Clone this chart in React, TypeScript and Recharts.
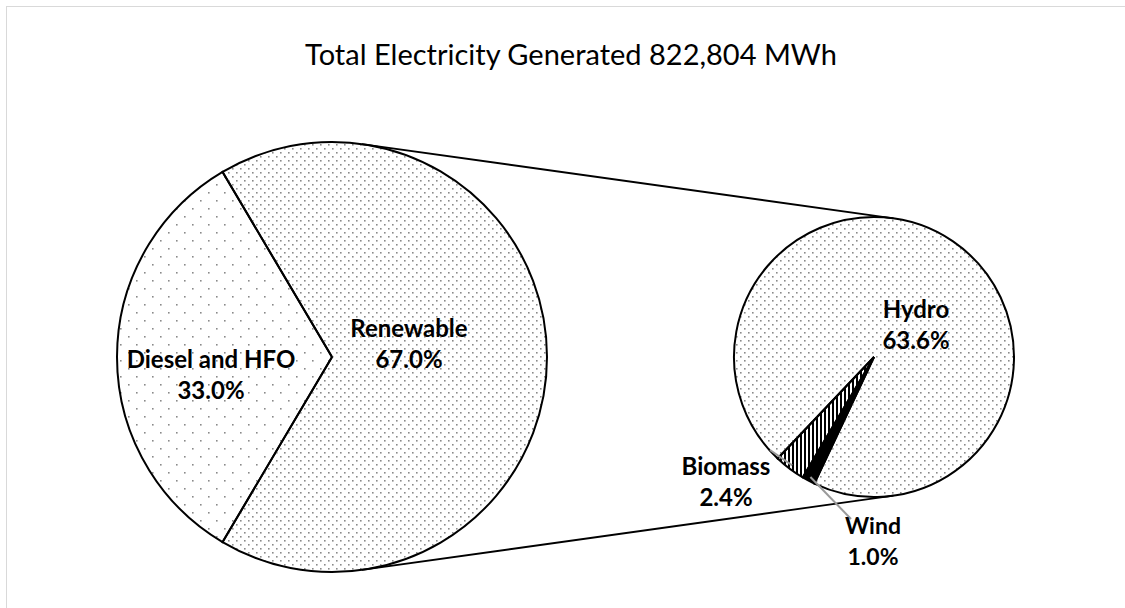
import { PieChart, Pie, Cell, Customized } from 'recharts';

// shares of total generation (%)
const mainNames = ['Diesel and HFO', 'Renewable'];
const mainShares = [33.0, 67.0];
const renewNames = ['Biomass', 'Wind', 'Hydro'];
const renewShares = [2.4, 1.0, 63.6];
const titleText = 'Total Electricity Generated 822,804 MWh';

const mainData = mainNames.map((name, i) => ({ name, value: mainShares[i] }));
const renewData = renewNames.map((name, i) => ({ name, value: renewShares[i] }));

const W = 1125;
const H = 608;
const FONT = 'Lato, "Open Sans", sans-serif';

// pie geometry
const BIG = { cx: 332, cy: 357, r: 215, start: 120.6 };
const SMALL = { cx: 874, cy: 357, r: 140, start: 226.5 };

const fills: Record<string, string> = {
  'Diesel and HFO': 'url(#dotSparse)',
  Renewable: 'url(#dotDense)',
  Hydro: 'url(#dotDense)',
  Biomass: 'url(#vStripes)',
  Wind: '#000',
};

// label placement relative to the pie centre
const labelPos: Record<string, { dx: number; dy: number }> = {
  'Diesel and HFO': { dx: -121, dy: 11 },
  Renewable: { dx: 77, dy: -20 },
  Hydro: { dx: 42, dy: -39 },
  Biomass: { dx: -148, dy: 118 },
  Wind: { dx: -1, dy: 177 },
};

// leader line start, relative to the small pie centre
const leaderStart: Record<string, { dx: number; dy: number }> = {
  Biomass: { dx: -104, dy: 93 },
  Wind: { dx: -23, dy: 162 },
};

const RAD = Math.PI / 180;

function midAngleOf(name: string) {
  const total = renewShares.reduce((a, b) => a + b, 0);
  let cum = 0;
  for (let i = 0; i < renewNames.length; i++) {
    if (renewNames[i] === name) return SMALL.start + ((cum + renewShares[i] / 2) / total) * 360;
    cum += renewShares[i];
  }
  return 0;
}

function renderLabel(center: { cx: number; cy: number; r: number }) {
  return (props: any) => {
    const name = props.payload?.name ?? props.name;
    const value = props.payload?.value ?? props.value;
    const pos = labelPos[name];
    if (!pos) return null;
    const x = center.cx + pos.dx;
    const y = center.cy + pos.dy;
    const size = name === 'Wind' ? 23 : 24;
    const ls = leaderStart[name];
    let leader = null;
    if (ls) {
      const mid = typeof props.midAngle === 'number' ? props.midAngle : midAngleOf(name);
      const ex = center.cx + center.r * 0.97 * Math.cos(-mid * RAD);
      const ey = center.cy + center.r * 0.97 * Math.sin(-mid * RAD);
      leader = (
        <line
          x1={center.cx + ls.dx}
          y1={center.cy + ls.dy}
          x2={ex}
          y2={ey}
          stroke="#9a9a9a"
          strokeWidth={2}
        />
      );
    }
    return (
      <g key={`lbl-${name}`}>
        {leader}
        <text x={x} y={y} textAnchor="middle" fontFamily={FONT} fontWeight={700} fontSize={size} fill="#000">
          {name}
        </text>
        <text x={x} y={y + 31} textAnchor="middle" fontFamily={FONT} fontWeight={700} fontSize={size} fill="#000">
          {`${Number(value).toFixed(1)}%`}
        </text>
      </g>
    );
  };
}

// outer tangent lines joining the two pies, plus the title
function Connectors() {
  const d = SMALL.cx - BIG.cx;
  const theta = Math.acos((BIG.r - SMALL.r) / d);
  const lines = [1, -1].map((s) => ({
    x1: BIG.cx + BIG.r * Math.cos(theta),
    y1: BIG.cy - s * BIG.r * Math.sin(theta),
    x2: SMALL.cx + SMALL.r * Math.cos(theta),
    y2: SMALL.cy - s * SMALL.r * Math.sin(theta),
  }));
  return (
    <g>
      {lines.map((l, i) => (
        <line key={i} {...l} stroke="#000" strokeWidth={1.8} />
      ))}
      <text x={571} y={65} textAnchor="middle" fontFamily={FONT} fontSize={29} fill="#000">
        {titleText}
      </text>
    </g>
  );
}

export default function App() {
  return (
    <div
      style={{
        position: 'absolute',
        left: 0,
        top: 0,
        width: W,
        height: H,
        overflow: 'hidden',
        background: '#fff',
      }}
    >
      <div
        style={{
          position: 'absolute',
          left: 6,
          top: 6,
          width: W + 20,
          height: H + 20,
          borderLeft: '1.5px solid #d9d9d9',
          borderTop: '1.5px solid #d9d9d9',
        }}
      />
      <div style={{ position: 'absolute', left: 0, top: 0 }}>
        <PieChart width={W} height={H} margin={{ top: 0, right: 0, bottom: 0, left: 0 }}>
          {/* patterns leave the background transparent so leader lines show through */}
          <defs>
            <pattern id="dotSparse" width={16} height={16} patternUnits="userSpaceOnUse">
              <rect x={0} y={0} width={1.6} height={1.6} fill="#8a8a8a" />
              <rect x={8} y={8} width={1.6} height={1.6} fill="#8a8a8a" />
            </pattern>
            <pattern id="dotDense" width={8} height={8} patternUnits="userSpaceOnUse">
              <rect x={0} y={0} width={1.6} height={1.6} fill="#8a8a8a" />
              <rect x={4} y={4} width={1.6} height={1.6} fill="#8a8a8a" />
            </pattern>
            <pattern id="vStripes" width={4} height={4} patternUnits="userSpaceOnUse">
              <rect x={0} y={0} width={2} height={4} fill="#000" />
            </pattern>
          </defs>
          <Customized component={Connectors} />
          <Pie
            data={mainData}
            dataKey="value"
            nameKey="name"
            cx={BIG.cx}
            cy={BIG.cy}
            outerRadius={BIG.r}
            startAngle={BIG.start}
            endAngle={BIG.start + 360}
            stroke="#000"
            strokeWidth={2}
            label={renderLabel(BIG)}
            labelLine={false}
            isAnimationActive={false}
          >
            {mainData.map((d) => (
              <Cell key={d.name} fill={fills[d.name]} />
            ))}
          </Pie>
          <Pie
            data={renewData}
            dataKey="value"
            nameKey="name"
            cx={SMALL.cx}
            cy={SMALL.cy}
            outerRadius={SMALL.r}
            startAngle={SMALL.start}
            endAngle={SMALL.start + 360}
            stroke="#000"
            strokeWidth={2}
            label={renderLabel(SMALL)}
            labelLine={false}
            isAnimationActive={false}
          >
            {renewData.map((d) => (
              <Cell key={d.name} fill={fills[d.name]} />
            ))}
          </Pie>
        </PieChart>
      </div>
    </div>
  );
}
